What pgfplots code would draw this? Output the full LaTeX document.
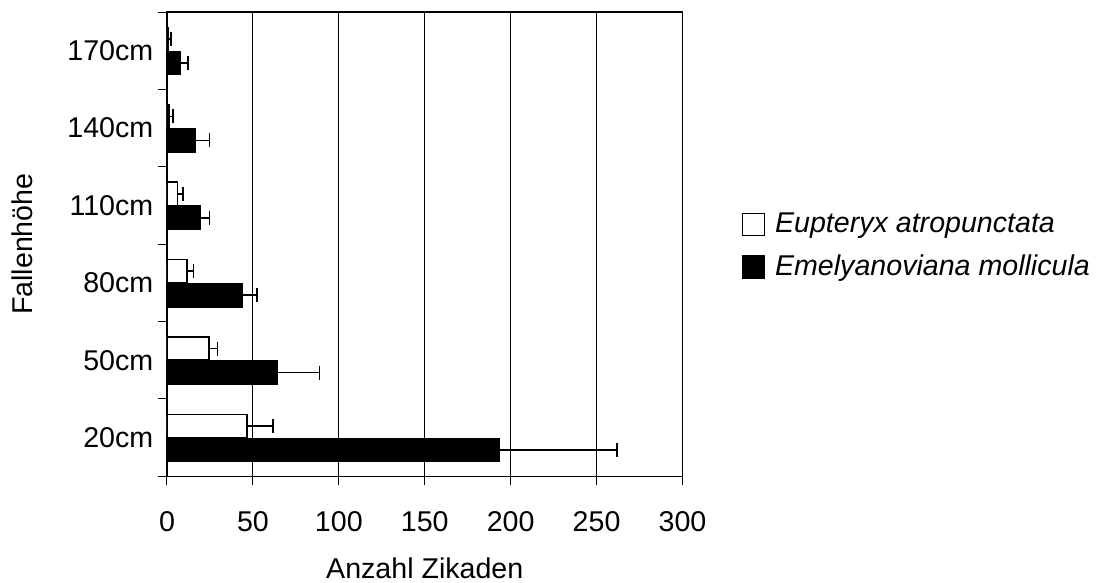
\documentclass[border=0pt]{standalone}
\usepackage{pgfplots}
\pgfplotsset{compat=1.18}
\usepackage{fontspec}
\setmainfont{Liberation Sans}
\begin{document}
\fontsize{14}{16.8}\selectfont
\begin{tikzpicture}
\useasboundingbox (-83.5pt,-53pt) rectangle (466pt,238.15pt);
\begin{axis}[
  scale only axis,
  width=257.75pt, height=232.15pt,
  at={(0,0)}, anchor=south west,
  xbar,
  xmin=0, xmax=300,
  ymin=-0.5, ymax=5.5,
  xtick={0,50,...,300},
  ytick={0,1,2,3,4,5},
  yticklabels={20cm,50cm,80cm,110cm,140cm,170cm},
  minor ytick={-0.5,0.5,...,5.5},
  major tick length=4.5pt,
  minor tick length=4.5pt,
  major y tick style={draw=none},
  minor y tick style={draw=black, line width=0.5pt},
  xtick style={draw=black, line width=0.5pt},
  tick align=outside,
  tick pos=left,
  xmajorgrids,
  major x grid style={black, line width=0.5pt},
  axis line style={black, line width=0.6pt},
  /pgf/number format/assume math mode=true,
  tick label style={font=\fontsize{14.3}{17}\selectfont},
  xticklabel style={anchor=base, yshift=-23pt},
  yticklabel style={anchor=east, xshift=2.5pt},
  label style={font=\fontsize{14.3}{17}\selectfont},
  xlabel={Anzahl Zikaden},
  xlabel style={at={(axis description cs:0.5,0)}, anchor=center, yshift=-46pt},
  ylabel={Fallenh\"ohe},
  ylabel style={at={(axis description cs:-0.2813,0.5)}, anchor=center},
  bar width=0.3,
  legend style={draw=none, fill=none, at={(axis description cs:1,0.5)}, anchor=west, xshift=29.5pt, yshift=-1pt,
    font=\fontsize{14.3}{17}\selectfont\itshape, row sep=5pt, inner sep=0pt,
    /tikz/every odd column/.append style={column sep=3pt}},
  legend cell align=left,
  legend image code/.code={\draw[#1, line width=0.6pt] (0pt,-5.5pt) rectangle (11pt,5.5pt);},
  error bars/error bar style={black, line width=0.8pt},
  error bars/error mark options={black, line width=0.8pt, mark size=3.5pt, rotate=90},
]
\addplot[draw=black, fill=white, line width=0.8pt, bar shift=0.15,
  error bars/.cd, x dir=plus, x explicit]
  coordinates {
  (46.6,0) +- (15.1,0)
  (24.4,1) +- (5.1,0)
  (11.8,2) +- (3.7,0)
  (6.0,3) +- (3.3,0)
  (1.0,4) +- (2.5,0)
  (0.7,5) +- (1.8,0)
  };
\addlegendentry{Eupteryx atropunctata}
\addplot[draw=black, fill=black, line width=0.8pt, bar shift=-0.16,
  error bars/.cd, x dir=plus, x explicit]
  coordinates {
  (193.4,0) +- (68.4,0)
  (64.3,1) +- (24.5,0)
  (43.6,2) +- (8.9,0)
  (19.2,3) +- (5.6,0)
  (16.7,4) +- (8.1,0)
  (7.4,5) +- (4.8,0)
  };
\addlegendentry{Emelyanoviana mollicula}
\end{axis}
\end{tikzpicture}
\end{document}
